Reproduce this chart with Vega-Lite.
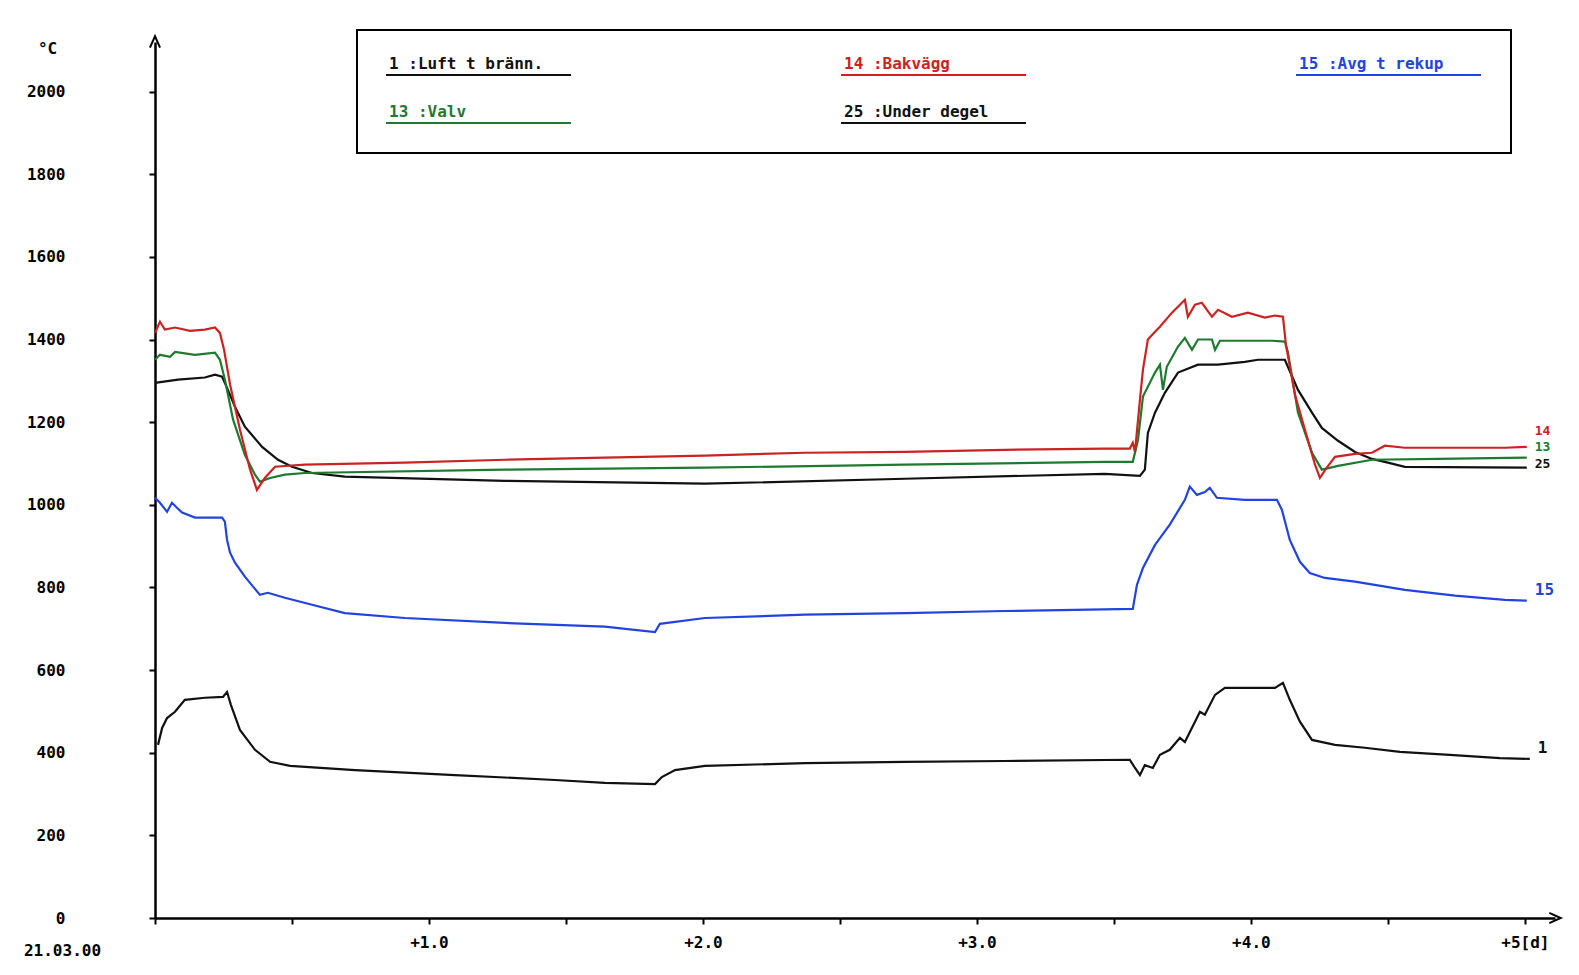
{
  "$schema": "https://vega.github.io/schema/vega-lite/v6.json",
  "width": 1400,
  "height": 876,
  "autosize": {"type": "none"},
  "padding": {"left": 155, "top": 42, "right": 24, "bottom": 57},
  "background": "white",
  "config": {"view": {"stroke": null}, "font": "DejaVu Sans Mono"},
  "data": {"values": [
    {"series": "1 :Luft t bränn.", "day": 0.011, "temp": 419},
    {"series": "1 :Luft t bränn.", "day": 0.026, "temp": 460},
    {"series": "1 :Luft t bränn.", "day": 0.044, "temp": 484},
    {"series": "1 :Luft t bränn.", "day": 0.073, "temp": 499},
    {"series": "1 :Luft t bränn.", "day": 0.109, "temp": 528},
    {"series": "1 :Luft t bränn.", "day": 0.182, "temp": 533},
    {"series": "1 :Luft t bränn.", "day": 0.248, "temp": 535},
    {"series": "1 :Luft t bränn.", "day": 0.263, "temp": 547},
    {"series": "1 :Luft t bränn.", "day": 0.277, "temp": 516},
    {"series": "1 :Luft t bränn.", "day": 0.31, "temp": 455},
    {"series": "1 :Luft t bränn.", "day": 0.365, "temp": 407},
    {"series": "1 :Luft t bränn.", "day": 0.42, "temp": 378},
    {"series": "1 :Luft t bränn.", "day": 0.493, "temp": 368},
    {"series": "1 :Luft t bränn.", "day": 0.73, "temp": 358},
    {"series": "1 :Luft t bränn.", "day": 1.095, "temp": 346},
    {"series": "1 :Luft t bränn.", "day": 1.46, "temp": 334},
    {"series": "1 :Luft t bränn.", "day": 1.642, "temp": 327},
    {"series": "1 :Luft t bränn.", "day": 1.825, "temp": 324},
    {"series": "1 :Luft t bränn.", "day": 1.85, "temp": 341},
    {"series": "1 :Luft t bränn.", "day": 1.898, "temp": 358},
    {"series": "1 :Luft t bränn.", "day": 2.007, "temp": 368},
    {"series": "1 :Luft t bränn.", "day": 2.372, "temp": 375},
    {"series": "1 :Luft t bränn.", "day": 2.737, "temp": 378},
    {"series": "1 :Luft t bränn.", "day": 3.102, "temp": 380},
    {"series": "1 :Luft t bränn.", "day": 3.558, "temp": 383},
    {"series": "1 :Luft t bränn.", "day": 3.577, "temp": 363},
    {"series": "1 :Luft t bränn.", "day": 3.595, "temp": 346},
    {"series": "1 :Luft t bränn.", "day": 3.613, "temp": 370},
    {"series": "1 :Luft t bränn.", "day": 3.642, "temp": 363},
    {"series": "1 :Luft t bränn.", "day": 3.668, "temp": 395},
    {"series": "1 :Luft t bränn.", "day": 3.704, "temp": 407},
    {"series": "1 :Luft t bränn.", "day": 3.741, "temp": 436},
    {"series": "1 :Luft t bränn.", "day": 3.759, "temp": 426},
    {"series": "1 :Luft t bränn.", "day": 3.796, "temp": 475},
    {"series": "1 :Luft t bränn.", "day": 3.814, "temp": 499},
    {"series": "1 :Luft t bränn.", "day": 3.832, "temp": 492},
    {"series": "1 :Luft t bränn.", "day": 3.869, "temp": 540},
    {"series": "1 :Luft t bränn.", "day": 3.905, "temp": 557},
    {"series": "1 :Luft t bränn.", "day": 4.088, "temp": 557},
    {"series": "1 :Luft t bränn.", "day": 4.117, "temp": 569},
    {"series": "1 :Luft t bränn.", "day": 4.142, "temp": 528},
    {"series": "1 :Luft t bränn.", "day": 4.179, "temp": 475},
    {"series": "1 :Luft t bränn.", "day": 4.223, "temp": 431},
    {"series": "1 :Luft t bränn.", "day": 4.307, "temp": 419},
    {"series": "1 :Luft t bränn.", "day": 4.416, "temp": 412},
    {"series": "1 :Luft t bränn.", "day": 4.544, "temp": 402},
    {"series": "1 :Luft t bränn.", "day": 4.726, "temp": 395},
    {"series": "1 :Luft t bränn.", "day": 4.909, "temp": 387},
    {"series": "1 :Luft t bränn.", "day": 5.018, "temp": 385},

    {"series": "15 :Avg t rekup", "day": 0, "temp": 1017},
    {"series": "15 :Avg t rekup", "day": 0.018, "temp": 1005},
    {"series": "15 :Avg t rekup", "day": 0.044, "temp": 983},
    {"series": "15 :Avg t rekup", "day": 0.062, "temp": 1005},
    {"series": "15 :Avg t rekup", "day": 0.08, "temp": 993},
    {"series": "15 :Avg t rekup", "day": 0.099, "temp": 981},
    {"series": "15 :Avg t rekup", "day": 0.146, "temp": 969},
    {"series": "15 :Avg t rekup", "day": 0.245, "temp": 969},
    {"series": "15 :Avg t rekup", "day": 0.255, "temp": 959},
    {"series": "15 :Avg t rekup", "day": 0.263, "temp": 915},
    {"series": "15 :Avg t rekup", "day": 0.274, "temp": 884},
    {"series": "15 :Avg t rekup", "day": 0.292, "temp": 860},
    {"series": "15 :Avg t rekup", "day": 0.328, "temp": 826},
    {"series": "15 :Avg t rekup", "day": 0.383, "temp": 782},
    {"series": "15 :Avg t rekup", "day": 0.412, "temp": 787},
    {"series": "15 :Avg t rekup", "day": 0.474, "temp": 775},
    {"series": "15 :Avg t rekup", "day": 0.573, "temp": 758},
    {"series": "15 :Avg t rekup", "day": 0.693, "temp": 738},
    {"series": "15 :Avg t rekup", "day": 0.912, "temp": 726},
    {"series": "15 :Avg t rekup", "day": 1.277, "temp": 714},
    {"series": "15 :Avg t rekup", "day": 1.642, "temp": 705},
    {"series": "15 :Avg t rekup", "day": 1.825, "temp": 692},
    {"series": "15 :Avg t rekup", "day": 1.843, "temp": 712},
    {"series": "15 :Avg t rekup", "day": 2.007, "temp": 726},
    {"series": "15 :Avg t rekup", "day": 2.372, "temp": 734},
    {"series": "15 :Avg t rekup", "day": 2.737, "temp": 738},
    {"series": "15 :Avg t rekup", "day": 3.102, "temp": 743},
    {"series": "15 :Avg t rekup", "day": 3.569, "temp": 748},
    {"series": "15 :Avg t rekup", "day": 3.584, "temp": 806},
    {"series": "15 :Avg t rekup", "day": 3.606, "temp": 847},
    {"series": "15 :Avg t rekup", "day": 3.65, "temp": 903},
    {"series": "15 :Avg t rekup", "day": 3.704, "temp": 952},
    {"series": "15 :Avg t rekup", "day": 3.759, "temp": 1012},
    {"series": "15 :Avg t rekup", "day": 3.777, "temp": 1044},
    {"series": "15 :Avg t rekup", "day": 3.803, "temp": 1024},
    {"series": "15 :Avg t rekup", "day": 3.832, "temp": 1031},
    {"series": "15 :Avg t rekup", "day": 3.85, "temp": 1041},
    {"series": "15 :Avg t rekup", "day": 3.876, "temp": 1017},
    {"series": "15 :Avg t rekup", "day": 3.978, "temp": 1012},
    {"series": "15 :Avg t rekup", "day": 4.095, "temp": 1012},
    {"series": "15 :Avg t rekup", "day": 4.113, "temp": 988},
    {"series": "15 :Avg t rekup", "day": 4.142, "temp": 915},
    {"series": "15 :Avg t rekup", "day": 4.179, "temp": 862},
    {"series": "15 :Avg t rekup", "day": 4.215, "temp": 835},
    {"series": "15 :Avg t rekup", "day": 4.27, "temp": 823},
    {"series": "15 :Avg t rekup", "day": 4.38, "temp": 814},
    {"series": "15 :Avg t rekup", "day": 4.562, "temp": 794},
    {"series": "15 :Avg t rekup", "day": 4.745, "temp": 780},
    {"series": "15 :Avg t rekup", "day": 4.927, "temp": 770},
    {"series": "15 :Avg t rekup", "day": 5.007, "temp": 768},

    {"series": "25 :Under degel", "day": 0, "temp": 1295},
    {"series": "25 :Under degel", "day": 0.084, "temp": 1303},
    {"series": "25 :Under degel", "day": 0.182, "temp": 1308},
    {"series": "25 :Under degel", "day": 0.219, "temp": 1315},
    {"series": "25 :Under degel", "day": 0.245, "temp": 1310},
    {"series": "25 :Under degel", "day": 0.263, "temp": 1283},
    {"series": "25 :Under degel", "day": 0.292, "temp": 1237},
    {"series": "25 :Under degel", "day": 0.328, "temp": 1189},
    {"series": "25 :Under degel", "day": 0.391, "temp": 1140},
    {"series": "25 :Under degel", "day": 0.449, "temp": 1109},
    {"series": "25 :Under degel", "day": 0.5, "temp": 1092},
    {"series": "25 :Under degel", "day": 0.573, "temp": 1077},
    {"series": "25 :Under degel", "day": 0.693, "temp": 1068},
    {"series": "25 :Under degel", "day": 1.277, "temp": 1058},
    {"series": "25 :Under degel", "day": 2.007, "temp": 1051},
    {"series": "25 :Under degel", "day": 2.737, "temp": 1063},
    {"series": "25 :Under degel", "day": 3.467, "temp": 1075},
    {"series": "25 :Under degel", "day": 3.595, "temp": 1070},
    {"series": "25 :Under degel", "day": 3.613, "temp": 1085},
    {"series": "25 :Under degel", "day": 3.624, "temp": 1174},
    {"series": "25 :Under degel", "day": 3.65, "temp": 1223},
    {"series": "25 :Under degel", "day": 3.686, "temp": 1271},
    {"series": "25 :Under degel", "day": 3.734, "temp": 1320},
    {"series": "25 :Under degel", "day": 3.807, "temp": 1339},
    {"series": "25 :Under degel", "day": 3.88, "temp": 1339},
    {"series": "25 :Under degel", "day": 3.978, "temp": 1346},
    {"series": "25 :Under degel", "day": 4.026, "temp": 1351},
    {"series": "25 :Under degel", "day": 4.124, "temp": 1351},
    {"series": "25 :Under degel", "day": 4.135, "temp": 1334},
    {"series": "25 :Under degel", "day": 4.172, "temp": 1278},
    {"series": "25 :Under degel", "day": 4.223, "temp": 1223},
    {"series": "25 :Under degel", "day": 4.259, "temp": 1186},
    {"series": "25 :Under degel", "day": 4.318, "temp": 1155},
    {"series": "25 :Under degel", "day": 4.38, "temp": 1128},
    {"series": "25 :Under degel", "day": 4.442, "temp": 1111},
    {"series": "25 :Under degel", "day": 4.5, "temp": 1102},
    {"series": "25 :Under degel", "day": 4.562, "temp": 1092},
    {"series": "25 :Under degel", "day": 5.007, "temp": 1090},

    {"series": "13 :Valv", "day": 0, "temp": 1351},
    {"series": "13 :Valv", "day": 0.018, "temp": 1363},
    {"series": "13 :Valv", "day": 0.055, "temp": 1358},
    {"series": "13 :Valv", "day": 0.073, "temp": 1370},
    {"series": "13 :Valv", "day": 0.146, "temp": 1363},
    {"series": "13 :Valv", "day": 0.219, "temp": 1368},
    {"series": "13 :Valv", "day": 0.237, "temp": 1351},
    {"series": "13 :Valv", "day": 0.255, "temp": 1303},
    {"series": "13 :Valv", "day": 0.285, "temp": 1206},
    {"series": "13 :Valv", "day": 0.328, "temp": 1121},
    {"series": "13 :Valv", "day": 0.365, "temp": 1073},
    {"series": "13 :Valv", "day": 0.383, "temp": 1056},
    {"series": "13 :Valv", "day": 0.42, "temp": 1065},
    {"series": "13 :Valv", "day": 0.474, "temp": 1073},
    {"series": "13 :Valv", "day": 0.547, "temp": 1077},
    {"series": "13 :Valv", "day": 1.277, "temp": 1085},
    {"series": "13 :Valv", "day": 2.007, "temp": 1090},
    {"series": "13 :Valv", "day": 2.737, "temp": 1097},
    {"series": "13 :Valv", "day": 3.467, "temp": 1104},
    {"series": "13 :Valv", "day": 3.569, "temp": 1104},
    {"series": "13 :Valv", "day": 3.588, "temp": 1157},
    {"series": "13 :Valv", "day": 3.606, "temp": 1262},
    {"series": "13 :Valv", "day": 3.65, "temp": 1320},
    {"series": "13 :Valv", "day": 3.668, "temp": 1339},
    {"series": "13 :Valv", "day": 3.679, "temp": 1278},
    {"series": "13 :Valv", "day": 3.693, "temp": 1334},
    {"series": "13 :Valv", "day": 3.734, "temp": 1383},
    {"series": "13 :Valv", "day": 3.759, "temp": 1404},
    {"series": "13 :Valv", "day": 3.785, "temp": 1375},
    {"series": "13 :Valv", "day": 3.807, "temp": 1400},
    {"series": "13 :Valv", "day": 3.858, "temp": 1400},
    {"series": "13 :Valv", "day": 3.869, "temp": 1375},
    {"series": "13 :Valv", "day": 3.887, "temp": 1397},
    {"series": "13 :Valv", "day": 3.953, "temp": 1397},
    {"series": "13 :Valv", "day": 4.077, "temp": 1397},
    {"series": "13 :Valv", "day": 4.124, "temp": 1395},
    {"series": "13 :Valv", "day": 4.135, "temp": 1370},
    {"series": "13 :Valv", "day": 4.172, "temp": 1223},
    {"series": "13 :Valv", "day": 4.223, "temp": 1126},
    {"series": "13 :Valv", "day": 4.259, "temp": 1085},
    {"series": "13 :Valv", "day": 4.318, "temp": 1094},
    {"series": "13 :Valv", "day": 4.442, "temp": 1109},
    {"series": "13 :Valv", "day": 4.682, "temp": 1111},
    {"series": "13 :Valv", "day": 5.007, "temp": 1114},

    {"series": "14 :Bakvägg", "day": 0, "temp": 1416},
    {"series": "14 :Bakvägg", "day": 0.018, "temp": 1443},
    {"series": "14 :Bakvägg", "day": 0.036, "temp": 1424},
    {"series": "14 :Bakvägg", "day": 0.073, "temp": 1429},
    {"series": "14 :Bakvägg", "day": 0.128, "temp": 1421},
    {"series": "14 :Bakvägg", "day": 0.182, "temp": 1424},
    {"series": "14 :Bakvägg", "day": 0.219, "temp": 1429},
    {"series": "14 :Bakvägg", "day": 0.237, "temp": 1416},
    {"series": "14 :Bakvägg", "day": 0.252, "temp": 1375},
    {"series": "14 :Bakvägg", "day": 0.274, "temp": 1291},
    {"series": "14 :Bakvägg", "day": 0.31, "temp": 1182},
    {"series": "14 :Bakvägg", "day": 0.347, "temp": 1085},
    {"series": "14 :Bakvägg", "day": 0.372, "temp": 1036},
    {"series": "14 :Bakvägg", "day": 0.401, "temp": 1065},
    {"series": "14 :Bakvägg", "day": 0.438, "temp": 1092},
    {"series": "14 :Bakvägg", "day": 0.547, "temp": 1097},
    {"series": "14 :Bakvägg", "day": 0.912, "temp": 1102},
    {"series": "14 :Bakvägg", "day": 1.277, "temp": 1109},
    {"series": "14 :Bakvägg", "day": 1.642, "temp": 1114},
    {"series": "14 :Bakvägg", "day": 2.007, "temp": 1119},
    {"series": "14 :Bakvägg", "day": 2.372, "temp": 1126},
    {"series": "14 :Bakvägg", "day": 2.737, "temp": 1128},
    {"series": "14 :Bakvägg", "day": 3.102, "temp": 1133},
    {"series": "14 :Bakvägg", "day": 3.467, "temp": 1136},
    {"series": "14 :Bakvägg", "day": 3.558, "temp": 1136},
    {"series": "14 :Bakvägg", "day": 3.569, "temp": 1150},
    {"series": "14 :Bakvägg", "day": 3.577, "temp": 1128},
    {"series": "14 :Bakvägg", "day": 3.595, "temp": 1254},
    {"series": "14 :Bakvägg", "day": 3.606, "temp": 1327},
    {"series": "14 :Bakvägg", "day": 3.624, "temp": 1400},
    {"series": "14 :Bakvägg", "day": 3.65, "temp": 1419},
    {"series": "14 :Bakvägg", "day": 3.668, "temp": 1431},
    {"series": "14 :Bakvägg", "day": 3.712, "temp": 1465},
    {"series": "14 :Bakvägg", "day": 3.759, "temp": 1496},
    {"series": "14 :Bakvägg", "day": 3.77, "temp": 1455},
    {"series": "14 :Bakvägg", "day": 3.796, "temp": 1484},
    {"series": "14 :Bakvägg", "day": 3.821, "temp": 1489},
    {"series": "14 :Bakvägg", "day": 3.858, "temp": 1455},
    {"series": "14 :Bakvägg", "day": 3.88, "temp": 1472},
    {"series": "14 :Bakvägg", "day": 3.931, "temp": 1455},
    {"series": "14 :Bakvägg", "day": 3.989, "temp": 1465},
    {"series": "14 :Bakvägg", "day": 4.051, "temp": 1453},
    {"series": "14 :Bakvägg", "day": 4.088, "temp": 1458},
    {"series": "14 :Bakvägg", "day": 4.117, "temp": 1455},
    {"series": "14 :Bakvägg", "day": 4.128, "temp": 1387},
    {"series": "14 :Bakvägg", "day": 4.161, "temp": 1266},
    {"series": "14 :Bakvägg", "day": 4.197, "temp": 1182},
    {"series": "14 :Bakvägg", "day": 4.234, "temp": 1097},
    {"series": "14 :Bakvägg", "day": 4.252, "temp": 1065},
    {"series": "14 :Bakvägg", "day": 4.277, "temp": 1090},
    {"series": "14 :Bakvägg", "day": 4.307, "temp": 1116},
    {"series": "14 :Bakvägg", "day": 4.38, "temp": 1123},
    {"series": "14 :Bakvägg", "day": 4.442, "temp": 1126},
    {"series": "14 :Bakvägg", "day": 4.489, "temp": 1143},
    {"series": "14 :Bakvägg", "day": 4.562, "temp": 1138},
    {"series": "14 :Bakvägg", "day": 4.745, "temp": 1138},
    {"series": "14 :Bakvägg", "day": 4.927, "temp": 1138},
    {"series": "14 :Bakvägg", "day": 5.007, "temp": 1140}
  ]},
  "layer": [
    {
      "mark": {"type": "line", "strokeWidth": 2.2},
      "encoding": {
        "x": {
          "field": "day", "type": "quantitative",
          "scale": {"domain": [0, 5.11], "nice": false, "zero": false},
          "axis": {
            "values": [0, 0.5, 1, 1.5, 2, 2.5, 3, 3.5, 4, 4.5, 5],
            "labelExpr": "datum.value == 0 ? '21.03.00' : (datum.value == 5 ? '+5[d]' : (datum.value % 1 == 0 ? '+' + format(datum.value, '.1f') : ''))",
            "title": null, "grid": false,
            "domainColor": "black", "domainWidth": 2.5,
            "tickColor": "black", "tickWidth": 2, "tickSize": 6,
            "labelFont": "DejaVu Sans Mono", "labelFontWeight": "bold", "labelFontSize": 16, "labelColor": "black",
            "labelBaseline": "top",
            "labelPadding": {"condition": {"test": "datum.value == 0", "value": 18}, "value": 10},
            "labelOffset": {"condition": {"test": "datum.value == 0", "value": -93}, "value": 0},
            "labelFlush": false, "labelOverlap": false, "labelBound": false
          }
        },
        "y": {
          "field": "temp", "type": "quantitative",
          "scale": {"domain": [0, 2120], "nice": false},
          "axis": {
            "values": [0, 200, 400, 600, 800, 1000, 1200, 1400, 1600, 1800, 2000],
            "format": "d",
            "title": "°C", "titleAngle": 0, "titleX": -108, "titleY": 6,
            "titleAlign": "center", "titleBaseline": "middle",
            "titleFont": "DejaVu Sans Mono", "titleFontWeight": "bold", "titleFontSize": 16, "titleColor": "black",
            "grid": false,
            "domainColor": "black", "domainWidth": 2.5,
            "tickColor": "black", "tickWidth": 2, "tickSize": 6,
            "labelPadding": 84, "labelAlign": "right", "labelBaseline": "middle",
            "labelFont": "DejaVu Sans Mono", "labelFontWeight": "bold", "labelFontSize": 16, "labelColor": "black",
            "labelFlush": false, "labelOverlap": false
          }
        },
        "color": {
          "field": "series", "type": "nominal",
          "scale": {
            "domain": ["1 :Luft t bränn.", "14 :Bakvägg", "15 :Avg t rekup", "13 :Valv", "25 :Under degel"],
            "range": ["#111111", "#cc2222", "#2244dd", "#1e7a2e", "#111111"]
          },
          "legend": {
            "title": null, "orient": "none", "legendX": 202, "legendY": -12,
            "direction": "horizontal", "columns": 3, "columnPadding": 262, "rowPadding": 25,
            "padding": 26, "fillColor": "white", "strokeColor": "black",
            "symbolType": "M-1,2.2L36,2.2", "symbolSize": 100, "symbolStrokeWidth": 2, "symbolOffset": 0,
            "labelOffset": -10, "labelFont": "DejaVu Sans Mono", "labelFontSize": 16, "labelFontWeight": "bold", "labelLimit": 0,
            "encode": {
              "labels": {"update": {"fill": {"scale": "color", "field": "value"}}},
              "legend": {"update": {"strokeWidth": {"value": 2}}}
            }
          }
        }
      }
    },
    {
      "transform": [
        {"joinaggregate": [{"op": "max", "field": "day", "as": "maxday"}], "groupby": ["series"]},
        {"filter": "datum.day == datum.maxday"},
        {"filter": "datum.series == '1 :Luft t bränn.' || datum.series == '15 :Avg t rekup'"},
        {"calculate": "split(datum.series, ' ')[0]", "as": "lab"}
      ],
      "mark": {"type": "text", "align": "left", "baseline": "middle", "dx": 8, "dy": -11, "font": "DejaVu Sans Mono", "fontSize": 16, "fontWeight": "bold"},
      "encoding": {
        "x": {"field": "day", "type": "quantitative"},
        "y": {"field": "temp", "type": "quantitative"},
        "text": {"field": "lab"},
        "fill": {
          "field": "series", "type": "nominal",
          "scale": {
            "domain": ["1 :Luft t bränn.", "14 :Bakvägg", "15 :Avg t rekup", "13 :Valv", "25 :Under degel"],
            "range": ["#111111", "#cc2222", "#2244dd", "#1e7a2e", "#111111"]
          },
          "legend": null
        }
      }
    },
    {
      "transform": [
        {"joinaggregate": [{"op": "max", "field": "day", "as": "maxday"}], "groupby": ["series"]},
        {"filter": "datum.day == datum.maxday && datum.series == '14 :Bakvägg'"},
        {"calculate": "split(datum.series, ' ')[0]", "as": "lab"}
      ],
      "mark": {"type": "text", "align": "left", "baseline": "middle", "dx": 8, "dy": -16, "font": "DejaVu Sans Mono", "fontSize": 13, "fontWeight": "bold", "fill": "#cc2222"},
      "encoding": {
        "x": {"field": "day", "type": "quantitative"},
        "y": {"field": "temp", "type": "quantitative"},
        "text": {"field": "lab"}
      }
    },
    {
      "transform": [
        {"joinaggregate": [{"op": "max", "field": "day", "as": "maxday"}], "groupby": ["series"]},
        {"filter": "datum.day == datum.maxday && datum.series == '13 :Valv'"},
        {"calculate": "split(datum.series, ' ')[0]", "as": "lab"}
      ],
      "mark": {"type": "text", "align": "left", "baseline": "middle", "dx": 8, "dy": -11, "font": "DejaVu Sans Mono", "fontSize": 13, "fontWeight": "bold", "fill": "#1e7a2e"},
      "encoding": {
        "x": {"field": "day", "type": "quantitative"},
        "y": {"field": "temp", "type": "quantitative"},
        "text": {"field": "lab"}
      }
    },
    {
      "transform": [
        {"joinaggregate": [{"op": "max", "field": "day", "as": "maxday"}], "groupby": ["series"]},
        {"filter": "datum.day == datum.maxday && datum.series == '25 :Under degel'"},
        {"calculate": "split(datum.series, ' ')[0]", "as": "lab"}
      ],
      "mark": {"type": "text", "align": "left", "baseline": "middle", "dx": 8, "dy": -4, "font": "DejaVu Sans Mono", "fontSize": 13, "fontWeight": "bold", "fill": "#111111"},
      "encoding": {
        "x": {"field": "day", "type": "quantitative"},
        "y": {"field": "temp", "type": "quantitative"},
        "text": {"field": "lab"}
      }
    },
    {
      "data": {"values": [{}]},
      "mark": {"type": "point", "shape": "M-0.8,0.9L0,-0.9L0.8,0.9", "filled": false, "stroke": "black", "strokeWidth": 2, "size": 160, "opacity": 1},
      "encoding": {"x": {"datum": 0}, "y": {"datum": 2120}}
    },
    {
      "data": {"values": [{}]},
      "mark": {"type": "point", "shape": "M-0.9,-0.8L0.9,0L-0.9,0.8", "filled": false, "stroke": "black", "strokeWidth": 2, "size": 160, "opacity": 1},
      "encoding": {"x": {"datum": 5.11}, "y": {"datum": 0}}
    }
  ]
}
